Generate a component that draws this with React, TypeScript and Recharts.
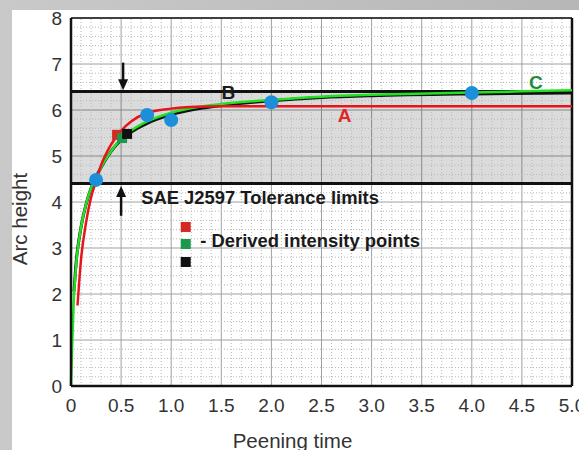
import React from 'react';
import {
  ComposedChart,
  Line,
  Scatter,
  XAxis,
  YAxis,
  CartesianGrid,
  ReferenceLine,
  ReferenceArea,
  ReferenceDot,
  Label,
} from 'recharts';

const FONT = '"Liberation Sans", Arial, Helvetica, sans-serif';

// Axis ticks
const xTicks = [0, 0.5, 1, 1.5, 2, 2.5, 3, 3.5, 4, 4.5, 5];
const xTickLabels = ['0', '0.5', '1.0', '1.5', '2.0', '2.5', '3.0', '3.5', '4.0', '4.5', '5.0'];
const yTicks = [0, 1, 2, 3, 4, 5, 6, 7, 8];

// Curve A (red)
const curveA = [
  { x: 0.065, y: 1.75 },
  { x: 0.1, y: 2.75 },
  { x: 0.15, y: 3.55 },
  { x: 0.2, y: 4.1 },
  { x: 0.25, y: 4.45 },
  { x: 0.3, y: 4.8 },
  { x: 0.4, y: 5.25 },
  { x: 0.5, y: 5.55 },
  { x: 0.6, y: 5.75 },
  { x: 0.75, y: 5.93 },
  { x: 1.0, y: 6.03 },
  { x: 1.25, y: 6.07 },
  { x: 1.5, y: 6.08 },
  { x: 2.0, y: 6.08 },
  { x: 3.0, y: 6.08 },
  { x: 5.0, y: 6.08 },
];

// Curve B (black)
const curveB = [
  { x: 0.03, y: 2.05 },
  { x: 0.05, y: 2.65 },
  { x: 0.1, y: 3.45 },
  { x: 0.15, y: 3.95 },
  { x: 0.2, y: 4.3 },
  { x: 0.25, y: 4.55 },
  { x: 0.3, y: 4.75 },
  { x: 0.4, y: 5.1 },
  { x: 0.5, y: 5.35 },
  { x: 0.6, y: 5.52 },
  { x: 0.75, y: 5.7 },
  { x: 1.0, y: 5.9 },
  { x: 1.25, y: 6.02 },
  { x: 1.5, y: 6.1 },
  { x: 2.0, y: 6.2 },
  { x: 2.5, y: 6.27 },
  { x: 3.0, y: 6.31 },
  { x: 4.0, y: 6.35 },
  { x: 5.0, y: 6.37 },
];

// Curve C (green)
const curveC = [
  { x: 0, y: 0 },
  { x: 0.03, y: 1.95 },
  { x: 0.05, y: 2.6 },
  { x: 0.1, y: 3.45 },
  { x: 0.15, y: 3.95 },
  { x: 0.2, y: 4.3 },
  { x: 0.25, y: 4.52 },
  { x: 0.3, y: 4.75 },
  { x: 0.4, y: 5.1 },
  { x: 0.5, y: 5.37 },
  { x: 0.6, y: 5.55 },
  { x: 0.75, y: 5.74 },
  { x: 1.0, y: 5.94 },
  { x: 1.25, y: 6.06 },
  { x: 1.5, y: 6.13 },
  { x: 2.0, y: 6.22 },
  { x: 2.5, y: 6.29 },
  { x: 3.0, y: 6.33 },
  { x: 4.0, y: 6.38 },
  { x: 5.0, y: 6.43 },
];

// Measured points (blue)
const measuredPoints = [
  { x: 0.25, y: 4.48 },
  { x: 0.76, y: 5.89 },
  { x: 1.0, y: 5.78 },
  { x: 2.0, y: 6.17 },
  { x: 4.0, y: 6.37 },
];

// Derived intensity points
const derivedA = [{ x: 0.46, y: 5.46 }];
const derivedC = [{ x: 0.51, y: 5.39 }];
const derivedB = [{ x: 0.56, y: 5.48 }];

// Tolerance limits
const toleranceLow = 4.4;
const toleranceHigh = 6.4;

// Minor grid
const xMinor: number[] = [];
for (let i = 1; i < 50; i++) if (i % 5 !== 0) xMinor.push(i / 10);
const yMinor: number[] = [];
for (let i = 1; i < 40; i++) if (i % 5 !== 0) yMinor.push(i / 5);

const RED = '#e8141c';
const BLACK = '#111111';
const GREEN = '#22e022';
const BLUE = '#1b8fd9';

const Circle = (p: any) => (
  <circle cx={p.cx} cy={p.cy} r={7} fill={BLUE} stroke="none" />
);
const makeSquare = (color: string) => (p: any) => (
  <rect x={p.cx - 5} y={p.cy - 5} width={10} height={10} fill={color} />
);
const makeText = (
  txt: string,
  color: string,
  size: number,
  anchor: 'start' | 'middle' = 'middle'
) => (p: any) => (
  <text
    x={p.cx}
    y={p.cy}
    fill={color}
    fontSize={size}
    fontWeight="bold"
    fontFamily={FONT}
    textAnchor={anchor}
    dominantBaseline={anchor === 'middle' ? 'central' : 'alphabetic'}
  >
    {txt}
  </text>
);
const DownHead = (p: any) => (
  <path d={`M${p.cx - 5},${p.cy - 11} L${p.cx + 5},${p.cy - 11} L${p.cx},${p.cy} Z`} fill={BLACK} />
);
const UpHead = (p: any) => (
  <path d={`M${p.cx - 5},${p.cy + 11} L${p.cx + 5},${p.cy + 11} L${p.cx},${p.cy} Z`} fill={BLACK} />
);

export default function App() {
  return (
    <div
      style={{
        position: 'absolute',
        left: 0,
        top: 0,
        width: 579,
        height: 450,
        overflow: 'hidden',
        background: 'linear-gradient(to right, #c9c9c9, #b7b7b7)',
      }}
    >
      <div
        style={{
          position: 'absolute',
          left: 12,
          top: 10,
          width: 567,
          height: 440,
          background: '#ffffff',
        }}
      />
      <div style={{ position: 'absolute', left: 0, top: 0 }}>
        <ComposedChart
          width={579}
          height={450}
          margin={{ top: 18, right: 7, bottom: 0, left: 0 }}
        >
          <CartesianGrid stroke="#a0a0a0" strokeWidth={1} />
          {xMinor.map((v) => (
            <ReferenceLine key={'xm' + v} x={v} stroke="#b8b8b8" strokeDasharray="1 2" />
          ))}
          {yMinor.map((v) => (
            <ReferenceLine key={'ym' + v} y={v} stroke="#b8b8b8" strokeDasharray="1 2" />
          ))}
          <ReferenceArea
            x1={0}
            x2={5}
            y1={toleranceLow}
            y2={toleranceHigh}
            fill="#000000"
            fillOpacity={0.14}
            stroke="none"
          />
          <ReferenceLine y={toleranceHigh} stroke={BLACK} strokeWidth={3} />
          <ReferenceLine y={toleranceLow} stroke={BLACK} strokeWidth={3} />
          <ReferenceLine x={5} stroke={BLACK} strokeWidth={2.5} />
          <ReferenceLine y={8} stroke={BLACK} strokeWidth={1.5} />
          <XAxis
            type="number"
            dataKey="x"
            domain={[0, 5]}
            ticks={xTicks}
            tickFormatter={(v: number) => xTickLabels[xTicks.indexOf(v)] ?? String(v)}
            height={64}
            tickLine={false}
            tickSize={0}
            tickMargin={13}
            axisLine={{ stroke: BLACK, strokeWidth: 2.5 }}
            tick={{ fill: '#333', fontSize: 19, fontFamily: FONT }}
            interval={0}
          >
            <Label
              content={({ viewBox }: any) => (
                <text
                  x={viewBox.x + viewBox.width / 2 - 29}
                  y={viewBox.y + 62}
                  textAnchor="middle"
                  fill="#333"
                  fontSize={20.5}
                  fontFamily={FONT}
                >
                  Peening time
                </text>
              )}
            />
          </XAxis>
          <YAxis
            type="number"
            domain={[0, 8]}
            ticks={yTicks}
            width={71}
            tickLine={false}
            tickSize={0}
            tickMargin={9}
            axisLine={{ stroke: BLACK, strokeWidth: 2.5 }}
            tick={{ fill: '#333', fontSize: 19, fontFamily: FONT }}
            interval={0}
          >
            <Label
              content={({ viewBox }: any) => {
                const cx = viewBox.x + 27;
                const cy = viewBox.y + viewBox.height / 2 + 17;
                return (
                  <text
                    x={cx}
                    y={cy}
                    transform={`rotate(-90, ${cx}, ${cy})`}
                    textAnchor="middle"
                    fill="#333"
                    fontSize={20.5}
                    fontFamily={FONT}
                  >
                    Arc height
                  </text>
                );
              }}
            />
          </YAxis>

          {/* arrows */}
          <ReferenceLine
            segment={[
              { x: 0.52, y: 7.03 },
              { x: 0.52, y: 6.6 },
            ]}
            stroke={BLACK}
            strokeWidth={2.5}
          />
          <ReferenceDot x={0.52} y={6.43} r={0} shape={DownHead} />
          <ReferenceLine
            segment={[
              { x: 0.5, y: 3.7 },
              { x: 0.5, y: 4.15 },
            ]}
            stroke={BLACK}
            strokeWidth={2.5}
          />
          <ReferenceDot x={0.5} y={4.35} r={0} shape={UpHead} />

          <Line
            data={curveB}
            dataKey="y"
            type="monotone"
            stroke={BLACK}
            strokeWidth={3}
            dot={false}
            isAnimationActive={false}
          />
          <Line
            data={curveC}
            dataKey="y"
            type="monotone"
            stroke={GREEN}
            strokeWidth={2.5}
            dot={false}
            isAnimationActive={false}
          />
          <Line
            data={curveA}
            dataKey="y"
            type="monotone"
            stroke={RED}
            strokeWidth={2.5}
            dot={false}
            isAnimationActive={false}
          />
          <Scatter data={measuredPoints} dataKey="y" shape={Circle} isAnimationActive={false} />
          <Scatter data={derivedA} dataKey="y" shape={makeSquare('#d42a22')} isAnimationActive={false} />
          <Scatter data={derivedC} dataKey="y" shape={makeSquare('#1a9a4a')} isAnimationActive={false} />
          <Scatter data={derivedB} dataKey="y" shape={makeSquare(BLACK)} isAnimationActive={false} />

          {/* curve letters */}
          <ReferenceDot x={2.73} y={5.87} r={0} shape={makeText('A', '#e02828', 19)} />
          <ReferenceDot x={1.57} y={6.39} r={0} shape={makeText('B', '#1a1a1a', 19)} />
          <ReferenceDot x={4.64} y={6.6} r={0} shape={makeText('C', '#1e8a3c', 19)} />

          {/* annotations */}
          <ReferenceDot
            x={0.7}
            y={3.96}
            r={0}
            shape={makeText('SAE J2597 Tolerance limits', '#1a1a1a', 18.4, 'start')}
          />
          <ReferenceDot x={1.145} y={3.457} r={0} shape={makeSquare('#d42a22')} />
          <ReferenceDot x={1.145} y={3.087} r={0} shape={makeSquare('#1a9a4a')} />
          <ReferenceDot x={1.145} y={2.696} r={0} shape={makeSquare(BLACK)} />
          <ReferenceDot
            x={1.29}
            y={3.02}
            r={0}
            shape={makeText('- Derived intensity points', '#1a1a1a', 18.4, 'start')}
          />
        </ComposedChart>
      </div>
    </div>
  );
}
